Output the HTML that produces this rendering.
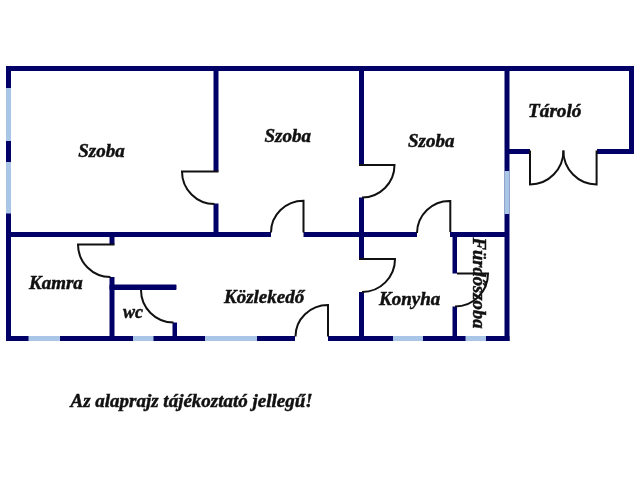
<!DOCTYPE html>
<html><head><meta charset="utf-8">
<style>
html,body{margin:0;padding:0;background:#fff;width:640px;height:480px;overflow:hidden}
svg{display:block;will-change:transform}
text{font-family:"Liberation Serif",serif;font-weight:bold;font-style:italic;fill:#111;stroke:#111;stroke-width:0.45}
</style></head><body>
<svg width="640" height="480" viewBox="0 0 640 480">
<g fill="#000066">
<!-- top wall -->
<rect x="6" y="66" width="628" height="5"/>
<!-- left wall -->
<rect x="6" y="66" width="5" height="275"/>
<!-- right wall tarolo -->
<rect x="629" y="66" width="5" height="88"/>
<!-- tarolo bottom -->
<rect x="505" y="149" width="25" height="5"/>
<rect x="597" y="149" width="37" height="5"/>
<!-- main right wall -->
<rect x="504.5" y="66" width="5" height="275"/>
<!-- bottom wall -->
<rect x="6" y="336" width="503.5" height="5"/>
<!-- middle horizontal wall -->
<rect x="6" y="232" width="265" height="5"/>
<rect x="303.5" y="232" width="113.5" height="5"/>
<rect x="450" y="232" width="59" height="5"/>
<!-- wall 2 -->
<rect x="213.5" y="66" width="5" height="105.5"/>
<rect x="213.5" y="203.5" width="5" height="33"/>
<!-- wall 3 -->
<rect x="359" y="66" width="5" height="99"/>
<rect x="359" y="197.5" width="5" height="61.5"/>
<rect x="359" y="292" width="5" height="49"/>
<!-- kamra wall -->
<rect x="109.5" y="232" width="5" height="12.5"/>
<rect x="109.5" y="277" width="5" height="64"/>
<!-- wc top wall -->
<rect x="109.5" y="284.5" width="67" height="5.5" rx="1"/>
<rect x="172.5" y="322.5" width="4.5" height="18"/>
<!-- furdo wall -->
<rect x="452.5" y="232" width="4.5" height="41.5"/>
<rect x="452.5" y="306.5" width="4.5" height="34"/>
</g>
<g fill="#aac6e6">
<!-- left wall windows -->
<rect x="6" y="88" width="5" height="53"/>
<rect x="6" y="162" width="5" height="51.5"/>
<!-- right wall window -->
<rect x="504.5" y="171" width="5" height="43"/>
<!-- bottom windows -->
<rect x="28.5" y="336" width="31.5" height="5"/>
<rect x="133" y="336" width="20.5" height="5"/>
<rect x="205" y="336" width="52" height="5"/>
<rect x="393" y="336" width="30" height="5"/>
<rect x="465.5" y="336" width="20.5" height="5"/>
</g>
<!-- door openings in bottom wall -->
<rect x="295" y="335" width="33" height="7" fill="#fff"/>
<g fill="none" stroke="#111" stroke-width="2">
<!-- door 1 wall2 -->
<path d="M218.5 171.5 H182 A32.5 32.5 0 0 0 214.5 204"/>
<!-- door 2 wall3 -->
<path d="M359 165 H394.5 A32.5 32.5 0 0 1 362 197.5"/>
<!-- kamra door -->
<path d="M114.5 244.5 H78 A32.5 32.5 0 0 0 110.5 277"/>
<!-- wc door -->
<path d="M141 290 A32.5 32.5 0 0 0 173.5 322.5"/>
<!-- kozlekedo top door -->
<path d="M303.5 232.5 V200.8 A32.5 31.7 0 0 0 271 232.5"/>
<!-- bottom door -->
<path d="M328 336.5 V305 A32.5 31.5 0 0 0 295.5 336.5"/>
<!-- konyha door wall3 -->
<path d="M359 259 H395 A33 33 0 0 1 362 292"/>
<!-- upper right door -->
<path d="M450.3 232 V201 A32.5 32.5 0 0 0 417 233"/>
<!-- furdo door -->
<path d="M457 273.5 H488 A33 33 0 0 1 455 306.5"/>
<!-- tarolo double door -->
<path d="M530 150.5 V184.5 A33.5 34 0 0 0 563.5 150.5"/>
<path d="M596.6 150.5 V184.5 A33.3 34 0 0 1 563.3 150.5"/>
</g>
<g font-size="18">
<text transform="translate(78.3 156.5) scale(1.055 1)">Szoba</text>
<text transform="translate(264.5 142) scale(1.055 1)">Szoba</text>
<text transform="translate(408 147) scale(1.055 1)">Szoba</text>
<text transform="translate(528 116.5) scale(1.07 1)">Tároló</text>
<text transform="translate(29 288.8) scale(1.055 1)">Kamra</text>
<text transform="translate(123 318) scale(1.0 1)">wc</text>
<text transform="translate(224 302.5) scale(1.055 1)">Közlekedő</text>
<text transform="translate(379 305) scale(1.055 1)">Konyha</text>
<text transform="translate(473 237.5) rotate(90) scale(1.035 1)">Fürdőszoba</text>
<text transform="translate(70.5 406.5) scale(1.055 1)">Az alaprajz tájékoztató jellegű!</text>
</g>
</svg>
</body></html>
